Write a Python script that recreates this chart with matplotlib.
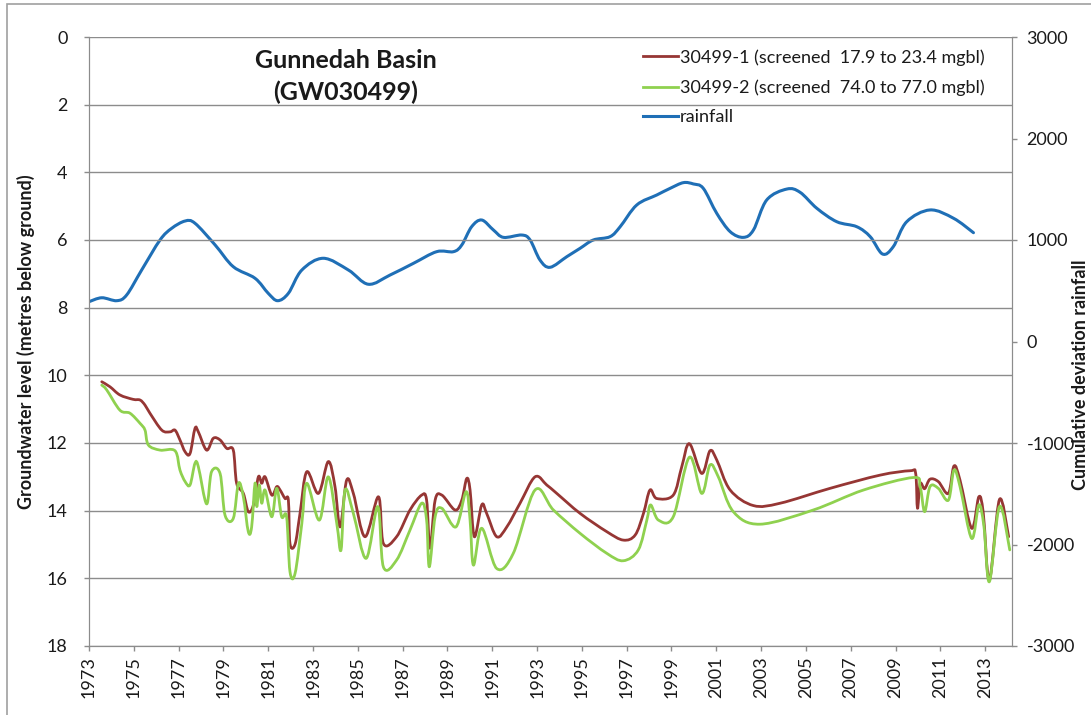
import matplotlib
matplotlib.use("Agg")
import matplotlib.pyplot as plt
from matplotlib.patches import Rectangle, PathPatch
from matplotlib.path import Path
from matplotlib.lines import Line2D

plt.rcParams['font.family'] = ['Lato', 'DejaVu Sans']
plt.rcParams['axes.unicode_minus'] = False

# bore 30499-1 (screened 17.9 to 23.4 mgbl), metres below ground
yr_1 = [1973.57, 1973.94, 1974.38, 1974.97, 1975.28, 1975.5, 1975.72, 1976.25, 1976.62, 1976.84,
        1977.06, 1977.29, 1977.51, 1977.73, 1977.88, 1978.25, 1978.55, 1978.85, 1979.15, 1979.44,
        1979.59, 1979.89, 1980.11, 1980.34, 1980.56, 1980.71, 1980.86, 1981.16, 1981.38, 1981.53,
        1981.75, 1981.9, 1981.97, 1982.2, 1982.42, 1982.72, 1983.24, 1983.68, 1983.98, 1984.21,
        1984.5, 1984.8, 1985.32, 1985.92, 1986.14, 1986.73, 1987.33, 1987.85, 1988.07, 1988.22,
        1988.45, 1988.75, 1989.34, 1989.64, 1989.86, 1990.01, 1990.2, 1990.53, 1990.75, 1991.2,
        1991.65, 1992.24, 1992.91, 1993.43, 1993.88, 1994.92, 1996.11, 1996.85, 1997.38, 1997.75,
        1998.04, 1998.34, 1999.08, 1999.46, 1999.8, 2000.35, 2000.72, 2001.02, 2001.62, 2002.66,
        2003.85, 2006.08, 2008.31, 2009.65, 2009.9, 2009.98, 2010.1, 2010.3, 2010.54, 2010.91,
        2011.36, 2011.61, 2011.88, 2012.4, 2012.72, 2012.92, 2013.19, 2013.64, 2014.05]
lvl_1 = [10.19, 10.34, 10.58, 10.71, 10.73, 10.88, 11.12, 11.62, 11.67, 11.62,
         11.91, 12.26, 12.31, 11.57, 11.67, 12.21, 11.86, 11.91, 12.16, 12.21,
         13.19, 13.49, 14.03, 13.83, 13.0, 13.19, 13.0, 13.54, 13.29, 13.39,
         13.64, 13.69, 14.97, 14.99, 14.08, 12.85, 13.49, 12.55, 13.29, 14.48,
         13.10, 13.49, 14.77, 13.59, 14.97, 14.77, 13.98, 13.54, 13.69, 15.11,
         13.69, 13.54, 13.98, 13.69, 13.05, 13.39, 14.77, 13.83, 14.08, 14.77,
         14.48, 13.78, 13.0, 13.24, 13.49, 14.08, 14.62, 14.87, 14.72, 14.08,
         13.39, 13.64, 13.54, 12.7, 12.02, 12.9, 12.23, 12.5, 13.39, 13.85,
         13.78, 13.34, 12.95, 12.82, 12.9, 13.93, 13.2, 13.35, 13.07, 13.14,
         13.49, 12.68, 13.1, 14.52, 13.59, 14.08, 16.05, 13.67, 14.77]

# bore 30499-2 (screened 74.0 to 77.0 mgbl)
yr_2 = [1973.57, 1973.79, 1974.38, 1974.83, 1975.28, 1975.5, 1975.65, 1976.17, 1976.84, 1977.06,
        1977.29, 1977.51, 1977.73, 1977.88, 1978.25, 1978.47, 1978.85, 1979.07, 1979.44, 1979.67,
        1979.89, 1980.11, 1980.26, 1980.41, 1980.49, 1980.6, 1980.71, 1980.86, 1981.16, 1981.38,
        1981.6, 1981.82, 1981.97, 1982.2, 1982.5, 1982.72, 1983.28, 1983.68, 1984.06, 1984.25,
        1984.43, 1984.8, 1985.37, 1985.89, 1986.14, 1986.73, 1987.33, 1987.85, 1988.07, 1988.19,
        1988.45, 1988.75, 1989.38, 1989.83, 1990.01, 1990.16, 1990.53, 1991.2, 1991.94, 1992.91,
        1993.73, 1994.92, 1996.11, 1996.85, 1997.52, 1997.9, 1998.07, 1998.42, 1999.08, 1999.8,
        2000.35, 2000.72, 2001.09, 2001.76, 2002.95, 2005.33, 2007.57, 2009.8, 2010.1, 2010.3,
        2010.54, 2010.91, 2011.36, 2011.61, 2011.88, 2012.4, 2012.72, 2012.95, 2013.19, 2013.64,
        2014.1]
lvl_2 = [10.29, 10.43, 11.03, 11.12, 11.42, 11.62, 12.06, 12.21, 12.23, 12.8,
         13.14, 13.24, 12.6, 12.7, 13.8, 12.85, 12.9, 14.13, 14.23, 13.19,
         13.59, 14.62, 14.48, 13.19, 13.88, 13.24, 13.78, 13.39, 14.18, 13.34,
         14.18, 14.18, 15.8, 15.85, 14.38, 13.19, 14.28, 13.0, 14.38, 15.16,
         13.39, 14.08, 15.41, 13.88, 15.66, 15.46, 14.57, 13.78, 14.28, 15.66,
         14.18, 13.93, 14.48, 13.44, 14.28, 15.61, 14.52, 15.71, 15.26, 13.39,
         13.98, 14.67, 15.26, 15.48, 15.16, 14.28, 13.83, 14.28, 14.18, 12.42,
         13.49, 12.65, 13.0, 14.03, 14.4, 13.98, 13.39, 13.02, 13.29, 14.03,
         13.29, 13.34, 13.69, 12.8, 13.29, 14.82, 13.83, 14.48, 16.1, 13.88,
         15.16]

# cumulative deviation of rainfall (mm)
yr_rain = [1973.0, 1973.57, 1974.24, 1974.68, 1975.35, 1976.17, 1976.69, 1977.29, 1977.73, 1978.63,
           1979.44, 1980.41, 1981.0, 1981.42, 1981.9, 1982.5, 1983.46, 1984.58, 1985.47, 1986.44,
           1987.48, 1988.52, 1989.27, 1989.64, 1990.08, 1990.53, 1991.05, 1991.5, 1992.32, 1992.69,
           1993.13, 1993.58, 1994.33, 1994.92, 1995.51, 1996.26, 1996.71, 1997.45, 1998.34, 1998.94,
           1999.53, 1999.98, 2000.42, 2001.02, 2001.62, 2002.21, 2002.66, 2003.25, 2004.15, 2004.74,
           2005.49, 2006.38, 2007.27, 2007.87, 2008.42, 2008.9, 2009.5, 2010.54, 2011.59, 2012.48]
rain = [392, 431, 402, 458, 704, 1000, 1115, 1187, 1165, 951,
        737, 623, 475, 402, 475, 704, 820, 704, 564, 655,
        770, 885, 885, 951, 1131, 1197, 1099, 1026, 1049, 1000,
        803, 731, 836, 918, 1000, 1033, 1131, 1345, 1443, 1509,
        1565, 1552, 1509, 1263, 1082, 1026, 1099, 1394, 1502, 1470,
        1312, 1180, 1131, 1033, 862, 934, 1180, 1296, 1214, 1072]

year_ticks = list(range(1973, 2014, 2))
depth_ticks = list(range(0, 19, 2))
rain_ticks = list(range(-3000, 3001, 1000))

grey = '#8c8c8c'
txt = '#1a1a1a'


def smooth_line(a, xs, ys, color, lw):
    # Excel style "smoothed line": cubic bezier through every reading
    n = len(xs)
    verts = [(xs[0], ys[0])]
    codes = [Path.MOVETO]
    for i in range(n - 1):
        x0, y0 = (xs[i - 1], ys[i - 1]) if i > 0 else (xs[i], ys[i])
        x3, y3 = (xs[i + 2], ys[i + 2]) if i + 2 < n else (xs[i + 1], ys[i + 1])
        c1 = (xs[i] + (xs[i + 1] - x0) / 6, ys[i] + (ys[i + 1] - y0) / 6)
        c2 = (xs[i + 1] - (x3 - xs[i]) / 6, ys[i + 1] - (y3 - ys[i]) / 6)
        verts += [c1, c2, (xs[i + 1], ys[i + 1])]
        codes += [Path.CURVE4] * 3
    a.add_patch(PathPatch(Path(verts, codes), fill=False, edgecolor=color, lw=lw,
                          joinstyle='round', capstyle='round'))
    return Line2D([], [], color=color, lw=lw)


fig = plt.figure(figsize=(10.91, 7.15), dpi=100)
ax = fig.add_axes([89/1091, 69/715, 923/1091, 609/715])
ax2 = ax.twinx()

h3 = smooth_line(ax2, yr_rain, rain, '#1f6fb6', 2.2)
h1 = smooth_line(ax, yr_1, lvl_1, '#963634', 2.0)
h2 = smooth_line(ax, yr_2, lvl_2, '#8fd14f', 2.0)
ax.set_zorder(ax2.get_zorder() + 1)
ax.patch.set_visible(False)

ax.set_xlim(1973, 2014.2)
ax.set_ylim(18, 0)
ax2.set_ylim(-3000, 3000)

ax.set_yticks(depth_ticks)
ax.set_xticks(year_ticks)
ax.set_xticklabels([str(y) for y in year_ticks], rotation=90)
ax2.set_yticks(rain_ticks)

ax.grid(axis='y', color=grey, lw=1.0)
ax.set_axisbelow(True)
for a in (ax, ax2):
    for s in a.spines.values():
        s.set_color(grey)
    a.spines['top'].set_visible(False)
    a.tick_params(colors=grey, labelcolor=txt, labelsize=13, length=3.5, width=1)
ax.tick_params(axis='y', pad=12)
ax2.tick_params(axis='y', pad=7)
ax.tick_params(axis='x', pad=4)

ax.set_ylabel('Groundwater level (metres below ground)', fontsize=13, fontweight='bold',
              color=txt, labelpad=8)
fig.text(1080/1091, 340/715, 'Cumulative deviation rainfall', rotation=90, fontsize=13,
         fontweight='bold', color=txt, ha='center', va='center')

fig.text(346/1091, 1 - 60/715, 'Gunnedah Basin', fontsize=18, fontweight='bold',
         color=txt, ha='center', va='center')
fig.text(346/1091, 1 - 92/715, '(GW030499)', fontsize=18, fontweight='bold',
         color=txt, ha='center', va='center')

ax.legend(handles=[h1, h2, h3],
          labels=['30499-1 (screened  17.9 to 23.4 mgbl)',
                  '30499-2 (screened  74.0 to 77.0 mgbl)', 'rainfall'],
          loc='upper left', bbox_to_anchor=(636/1091, 1 - 42/715), bbox_transform=fig.transFigure,
          frameon=False, fontsize=13, handlelength=1.9, handletextpad=0.15,
          labelspacing=0.75, borderaxespad=0.0, labelcolor=txt)

fig.patches.append(Rectangle((7/1091, -0.1), 1.5, 1.1 - 4/715, transform=fig.transFigure,
                             fill=False, edgecolor='#a0a0a0', lw=1.2))

fig.savefig('out.png', dpi=100)
